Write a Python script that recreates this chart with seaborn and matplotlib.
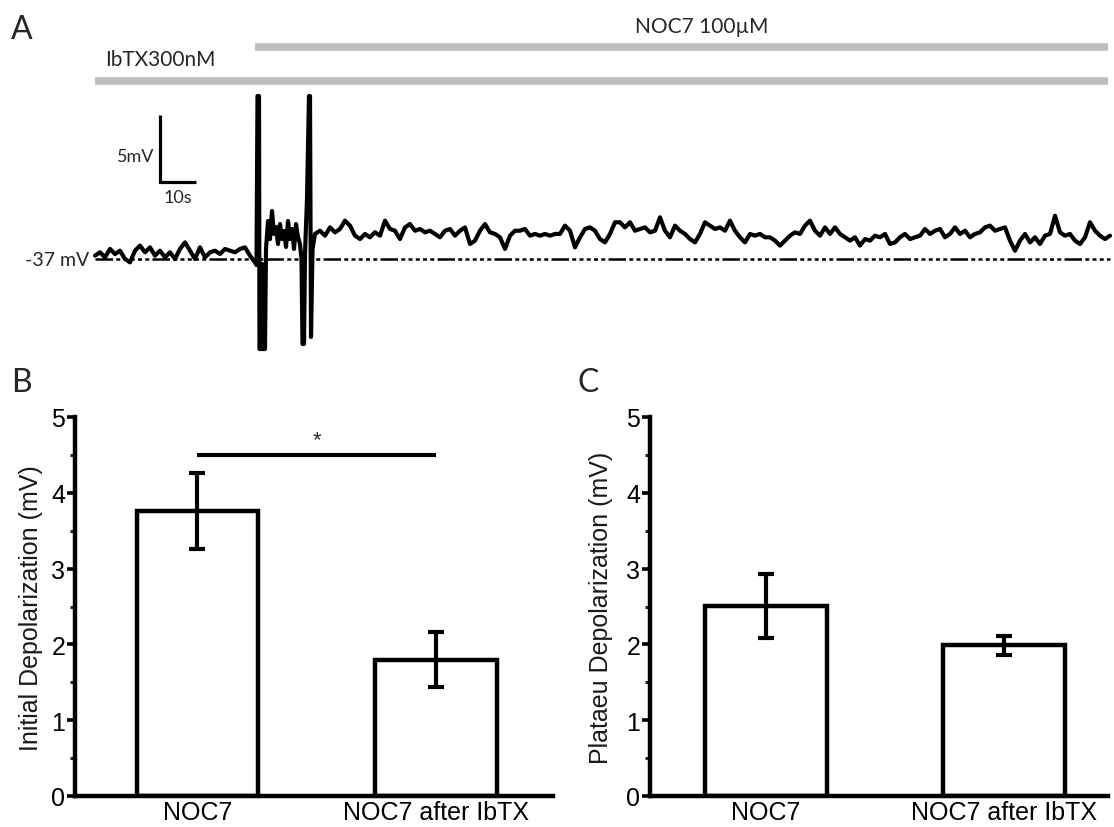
import numpy as np
import matplotlib
matplotlib.use("Agg")
import matplotlib.pyplot as plt
import seaborn as sns
from matplotlib.ticker import MultipleLocator

# ---------------- Panel A data (membrane potential trace) ----------------
REST_MV = -37.0
DT_S = 5 / 3.6  # sampling interval of the read-off points (s)

# before NOC7 (IbTX only), absolute mV
pre_mv = [-36.75, -36.5, -36.88, -36.25, -36.63, -36.38, -37.0, -37.25, -36.38, -36.0,
          -36.5, -36.13, -36.75, -36.38, -36.88, -36.5, -37.0, -36.25, -35.76, -36.38,
          -37.0, -36.13, -36.88, -36.5, -36.38, -36.63, -36.25, -36.38, -36.5, -36.25,
          -36.13, -36.75, -37.25]

# action potential burst at NOC7 onset
spike_t = [44.86, 45.14, 45.56, 45.69, 46.11, 46.39, 46.67, 47.22, 47.5, 48.06,
           48.61, 49.17, 49.72, 50.28, 50.83, 51.39, 51.94, 52.5, 53.06, 53.61,
           54.17, 54.72, 55.28, 55.83, 56.39, 56.94, 57.36, 57.64, 58.06, 58.33,
           58.89, 59.17, 59.44, 59.72, 60.0, 60.42]
spike_mv = [-37.45, -24.84, -24.84, -43.72, -43.72, -37.37, -43.72, -43.72, -36.25, -34.16,
            -35.51, -33.42, -35.13, -34.61, -35.88, -34.39, -35.51, -34.91, -36.10, -34.16,
            -35.51, -34.76, -36.25, -34.39, -35.36, -35.88, -37.0, -43.34, -43.34, -36.63,
            -32.52, -28.79, -24.84, -24.84, -42.82, -36.25]

# plateau in NOC7, depolarisation from rest (mV)
post_start_s = 61.11
post_depol = [1.87, 2.11, 1.74, 2.36, 1.99, 2.24, 2.86, 2.49, 1.74, 1.49,
              1.87, 1.62, 1.99, 1.74, 2.86, 2.24, 2.11, 1.49, 2.36, 2.61,
              2.11, 2.24, 1.99,
              2.11, 1.87, 1.62, 2.11, 2.24, 1.74, 2.11, 2.36, 1.12, 1.37,
              2.11, 2.61, 1.99, 1.87, 1.62, 0.75, 1.74, 2.11, 2.11, 2.24,
              1.74, 1.87, 1.74, 1.87, 1.74, 1.87, 1.87, 2.49, 2.11, 0.87,
              1.62, 2.24, 2.36, 2.11, 1.49, 1.24, 1.87, 2.74, 2.74, 2.36,
              2.74, 2.11, 2.24, 2.36, 1.99, 2.11, 3.11, 2.11, 1.62, 2.49,
              2.11, 1.87, 1.49, 1.24, 1.87, 2.74, 2.49, 2.24, 2.36, 2.11,
              2.86, 2.11, 1.62, 1.24, 1.87, 1.74, 1.87, 1.62,
              1.62, 1.37, 1.0, 1.37, 1.74, 1.99, 1.87, 2.49, 2.86, 2.11,
              1.74, 2.36, 1.87, 2.36, 1.87, 1.62, 1.37, 1.62, 1.0, 1.49,
              1.37, 1.74, 1.62, 1.87, 1.12, 1.24, 1.62, 1.87, 1.49, 1.62,
              1.74, 2.24, 1.87, 2.11, 2.24, 1.62, 1.87, 2.36, 1.87, 2.11,
              1.62, 1.87, 1.99, 2.36, 2.49, 2.11, 2.24, 2.36, 1.37, 0.62,
              1.37, 1.87, 1.24, 1.62, 1.12, 1.74, 1.87, 3.23, 1.99, 1.74,
              1.87, 1.37, 1.12, 1.62, 2.74, 2.11, 1.74, 1.49, 1.74]

ibtx_on_s = 0.0
noc7_on_s = 44.4
drug_end_s = 281.4
scalebar_t_s, scalebar_v_mv = 18.0, -31.25
scalebar_dt_s, scalebar_dv_mv = 10.0, 5.0

# ---------------- Panels B / C data ----------------
conditions = ["NOC7", "NOC7 after IbTX"]
initial_mean = [3.76, 1.80]
initial_sem = [0.50, 0.36]
plateau_mean = [2.51, 1.99]
plateau_sem = [0.42, 0.125]

# ---------------- build trace ----------------
pre_t = np.arange(len(pre_mv)) * DT_S
post_t = post_start_s + np.arange(len(post_depol)) * DT_S
t_all = np.concatenate([pre_t, spike_t, post_t])
v_all = np.concatenate([pre_mv, spike_mv, REST_MV + np.array(post_depol)])

sns.set_theme(style="white")
plt.rcParams["font.family"] = ["Liberation Sans", "DejaVu Sans"]

W, H = 1114, 828
fig = plt.figure(figsize=(W / 100, H / 100), dpi=100)


def fx(px):
    return px / W


def fy(py):
    return 1 - py / H


PX_PER_S = 3.6
PX_PER_MV = 13.4
X0_PX = 95
Y_REST_PX = 260

axA = fig.add_axes([0, fy(360), 1, 360 / H])
axA.axis("off")
axA.set_xlim(-X0_PX / PX_PER_S, (W - X0_PX) / PX_PER_S)
axA.set_ylim(REST_MV - (360 - Y_REST_PX) / PX_PER_MV, REST_MV + Y_REST_PX / PX_PER_MV)


def tpx(px):
    return (px - X0_PX) / PX_PER_S


def vpx(py):
    return REST_MV + (Y_REST_PX - py) / PX_PER_MV


sns.lineplot(x=t_all, y=v_all, ax=axA, color="black", linewidth=3.0,
             estimator=None, sort=False, legend=False)
axA.plot([0, t_all[-1]], [REST_MV, REST_MV], color="black", lw=1.8,
         dashes=(7.0, 1.3, 1.6, 1.3, 1.6, 1.3, 1.6, 1.3, 1.6, 1.3, 1.6, 1.3))

grey = "#BEBEBE"
axA.plot([noc7_on_s, drug_end_s], [vpx(48), vpx(48)], color=grey, lw=5.5,
         solid_capstyle="butt", clip_on=False)
axA.plot([ibtx_on_s, drug_end_s], [vpx(82), vpx(82)], color=grey, lw=5.5,
         solid_capstyle="butt", clip_on=False)

# scale bar
axA.plot([scalebar_t_s, scalebar_t_s, scalebar_t_s + scalebar_dt_s],
         [scalebar_v_mv + scalebar_dv_mv, scalebar_v_mv, scalebar_v_mv],
         color="black", lw=2.3, solid_capstyle="butt", solid_joinstyle="miter")

lato = ["Lato", "DejaVu Sans"]
axA.text(tpx(702), vpx(27), "NOC7 100µM", ha="center", va="center", fontsize=15, family=lato)
axA.text(tpx(160), vpx(60), "IbTX300nM", ha="center", va="center", fontsize=15, family=lato)
axA.text(tpx(154), vpx(157), "5mV", ha="right", va="center", fontsize=13, family=lato)
axA.text(tpx(178), vpx(198), "10s", ha="center", va="center", fontsize=13, family=lato)
axA.text(tpx(89), REST_MV, "-37 mV", ha="right", va="center", fontsize=14, family=lato)
fig.text(fx(11), fy(30), "A", ha="left", va="center", fontsize=23, family=lato)
fig.text(fx(11), fy(383), "B", ha="left", va="center", fontsize=23, family=lato)
fig.text(fx(578), fy(383), "C", ha="left", va="center", fontsize=23, family=lato)


def bar_panel(ax, means, sems, xlim):
    sns.barplot(x=conditions, y=means, ax=ax, color="white", edgecolor="black",
                linewidth=3.2, width=0.51, saturation=1)
    ax.errorbar([0, 1], means, yerr=sems, fmt="none", ecolor="black",
                elinewidth=3, capsize=6, capthick=3)
    ax.set_xlim(*xlim)
    ax.set_ylim(0, 5)
    ax.yaxis.set_major_locator(MultipleLocator(1))
    ax.yaxis.set_minor_locator(MultipleLocator(0.5))
    for s in ["top", "right"]:
        ax.spines[s].set_visible(False)
    for s in ["left", "bottom"]:
        ax.spines[s].set_linewidth(3.2)
        ax.spines[s].set_color("black")
    ax.tick_params(axis="y", which="major", direction="out", length=5.5, width=2.6,
                   labelsize=18, pad=1.5, left=True, colors="black")
    ax.tick_params(axis="y", which="minor", direction="out", length=3.5, width=2.2, left=True)
    ax.tick_params(axis="x", length=0, labelsize=18, pad=3, colors="black")
    ax.set_xlabel("")
    ax.set_ylabel("")
    ax.set_facecolor("none")


axB = fig.add_axes([fx(75), fy(797), fx(553) - fx(75), (797 - 418) / H])
bar_panel(axB, initial_mean, initial_sem, (-0.513, 1.49))
axB.plot([0, 1], [4.5, 4.5], color="black", lw=3, solid_capstyle="butt")
axB.text(0.5, 4.56, "*", ha="center", va="bottom", fontsize=16)
fig.text(fx(31), fy(608), "Initial Depolarization (mV)", rotation=90,
         ha="center", va="center", fontsize=18, color="#1a1a1a")

axC = fig.add_axes([fx(650), fy(797), fx(1108) - fx(650), (797 - 418) / H])
bar_panel(axC, plateau_mean, plateau_sem, (-0.487, 1.437))
fig.text(fx(601), fy(608), "Plataeu Depolarization (mV)", rotation=90,
         ha="center", va="center", fontsize=18, color="#1a1a1a")

fig.savefig("out.png", dpi=100, facecolor="white")
